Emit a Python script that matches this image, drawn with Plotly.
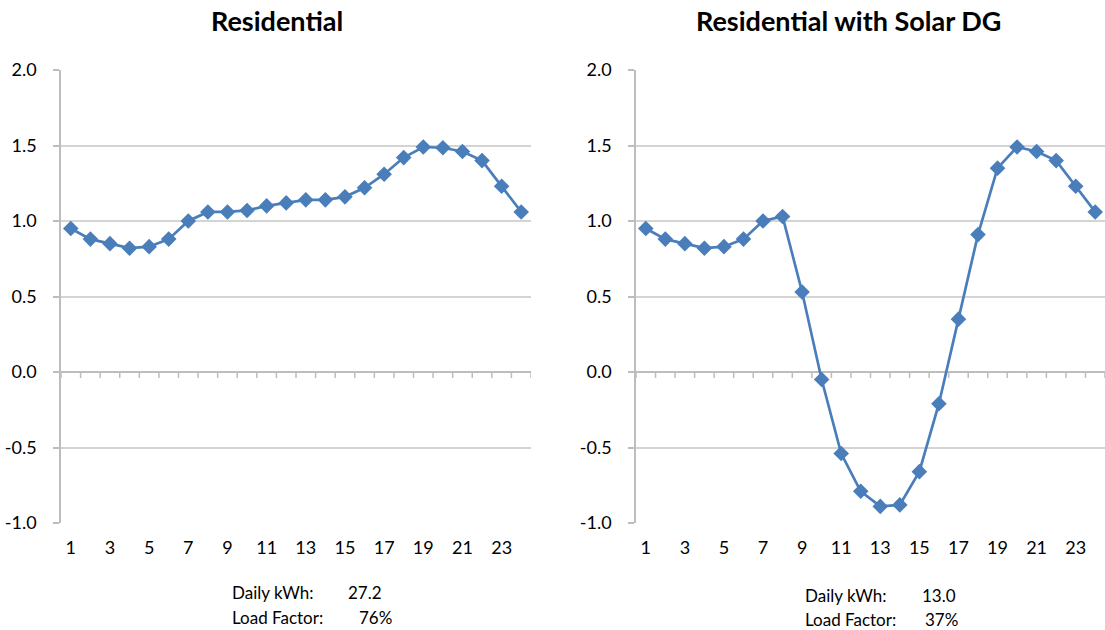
import plotly.graph_objects as go

# Hourly load profiles (kW) for a typical residential customer
hours = list(range(1, 25))
residential = [0.95, 0.88, 0.85, 0.82, 0.83, 0.88, 1.00, 1.06, 1.06, 1.07, 1.10, 1.12,
               1.14, 1.14, 1.16, 1.22, 1.31, 1.42, 1.49, 1.485, 1.46, 1.40, 1.23, 1.06]
residential_solar = [0.95, 0.88, 0.85, 0.82, 0.83, 0.88, 1.00, 1.03, 0.53, -0.05, -0.54, -0.79,
                     -0.89, -0.88, -0.66, -0.21, 0.35, 0.91, 1.35, 1.49, 1.46, 1.40, 1.23, 1.06]

panel_titles = ["Residential", "Residential with Solar DG"]
daily_kwh = ["27.2", "13.0"]
load_factor = ["76%", "37%"]
x_tick_values = list(range(1, 24, 2))
x_tick_labels = [str(h) for h in x_tick_values]
y_tick_values = [-1.0, -0.5, 0.0, 0.5, 1.0, 1.5, 2.0]
y_tick_labels = ["-1.0", "-0.5", "0.0", "0.5", "1.0", "1.5", "2.0"]

W, H = 1105, 630
FONT = "Lato"
LINE_BLUE = "#4a7ebb"
GRID = "#d4d4d4"
AXIS = "#bdbdbd"

y_lo, y_hi = -1.0, 2.0
ydom = [1 - 523 / H, 1 - 70 / H]
xdoms = [[61 / W, 531 / W], [636 / W, 1105 / W]]

fig = go.Figure()
series = [residential, residential_solar]
for i, vals in enumerate(series):
    sfx = "" if i == 0 else "2"
    fig.add_trace(go.Scatter(
        x=hours, y=vals, mode="lines+markers",
        line=dict(color=LINE_BLUE, width=2.7),
        marker=dict(symbol="diamond", size=12, color=LINE_BLUE),
        xaxis="x" + sfx, yaxis="y" + sfx, showlegend=False, hoverinfo="x+y",
        cliponaxis=False,
    ))

layout = dict(
    width=W, height=H,
    margin=dict(l=0, r=0, t=0, b=0, pad=0, autoexpand=False),
    paper_bgcolor="white", plot_bgcolor="white",
    font=dict(family=FONT, size=17, color="black"),
    showlegend=False,
)

boundaries = [h + 0.5 for h in range(0, 25)]
shapes = []
for i in range(2):
    n = i + 1
    xa = "xaxis" if n == 1 else f"xaxis{n}"
    ya = "yaxis" if n == 1 else f"yaxis{n}"
    xref = "x" if n == 1 else f"x{n}"
    yref = "y" if n == 1 else f"y{n}"
    layout[xa] = dict(
        domain=xdoms[i], anchor=yref, range=[0.5, 24.5],
        tickmode="array", tickvals=x_tick_values, ticktext=x_tick_labels,
        showgrid=False, showline=False, zeroline=False, ticks="",
        ticklabelstandoff=12, tickfont=dict(size=18, family=FONT),
        automargin=False, fixedrange=True,
    )
    layout[ya] = dict(
        domain=ydom, anchor=xref, range=[y_lo, y_hi],
        tickmode="array", tickvals=y_tick_values, ticktext=y_tick_labels,
        showgrid=True, gridcolor=GRID, gridwidth=1.5,
        showline=True, linecolor=AXIS, linewidth=1.5,
        ticks="outside", ticklen=6, tickcolor=AXIS, tickwidth=1.5,
        zeroline=True, zerolinecolor=AXIS, zerolinewidth=1.5,
        ticklabelstandoff=13, tickfont=dict(size=18, family=FONT),
        automargin=False, fixedrange=True,
    )
    # category tick marks hanging below the zero line, between the hours
    for b in boundaries:
        shapes.append(dict(
            type="line", xref=xref, yref=yref, x0=b, x1=b,
            ysizemode="pixel", yanchor=0, y0=0, y1=-6,
            line=dict(color=AXIS, width=1.5), layer="below",
        ))

fig.update_layout(**layout)
fig.update_layout(shapes=shapes)

title_x = [277, 848]
label_x = [230, 803]
value_x = [[346, 357], [920, 923]]
row_y = [[592, 617], [595, 619]]
ann = []
for i in range(2):
    ann.append(dict(text=f"<b>{panel_titles[i]}</b>", x=title_x[i] / W, y=1 - 21 / H,
                    xref="paper", yref="paper", xanchor="center", yanchor="middle",
                    showarrow=False, font=dict(size=27, family=FONT, color="black")))
    ann.append(dict(text="Daily kWh:", x=label_x[i] / W, y=1 - row_y[i][0] / H,
                    xref="paper", yref="paper", xanchor="left", yanchor="middle",
                    showarrow=False, font=dict(size=17, family=FONT)))
    ann.append(dict(text=daily_kwh[i], x=value_x[i][0] / W, y=1 - row_y[i][0] / H,
                    xref="paper", yref="paper", xanchor="left", yanchor="middle",
                    showarrow=False, font=dict(size=17, family=FONT)))
    ann.append(dict(text="Load Factor:", x=label_x[i] / W, y=1 - row_y[i][1] / H,
                    xref="paper", yref="paper", xanchor="left", yanchor="middle",
                    showarrow=False, font=dict(size=17, family=FONT)))
    ann.append(dict(text=load_factor[i], x=value_x[i][1] / W, y=1 - row_y[i][1] / H,
                    xref="paper", yref="paper", xanchor="left", yanchor="middle",
                    showarrow=False, font=dict(size=17, family=FONT)))
fig.update_layout(annotations=ann)

fig.write_html("out.html")
